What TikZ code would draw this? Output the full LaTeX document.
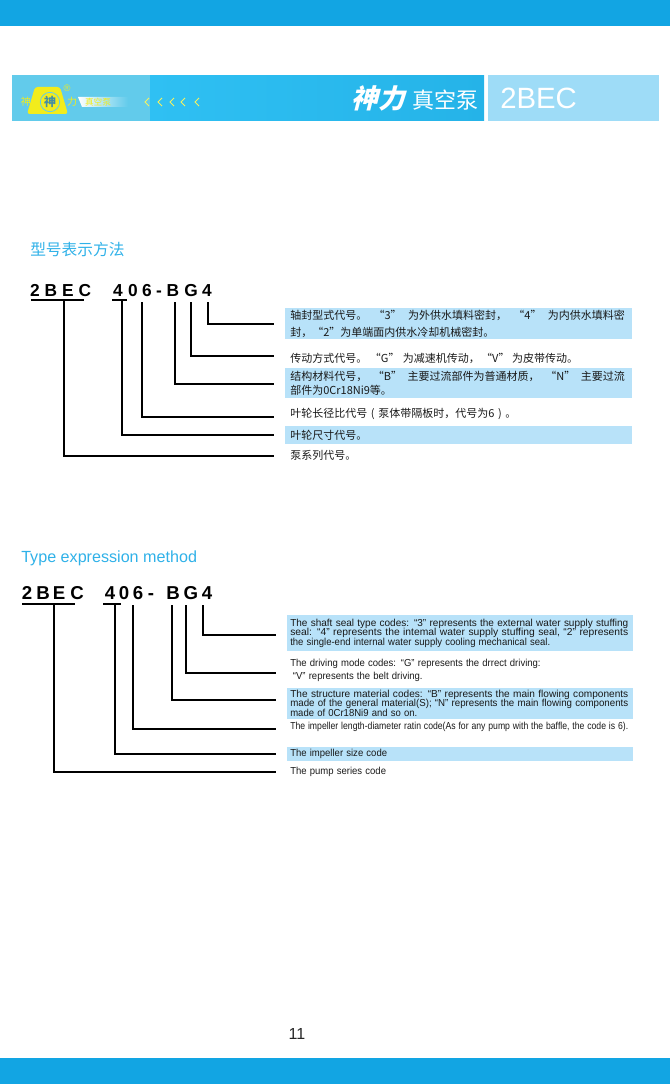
\documentclass[tikz,border=0pt]{standalone}
\usepackage{fontspec}
\setmainfont{Liberation Sans}
\newfontfamily\cjk{Noto Sans CJK SC}
\newfontfamily\cjkslant[FakeSlant=0.25]{Noto Sans CJK SC}
\usetikzlibrary{math}
\definecolor{barblue}{HTML}{12A5E3}
\definecolor{headleft}{HTML}{62CBEB}
\definecolor{headmid}{HTML}{2FC0F3}
\definecolor{headright}{HTML}{25B3E8}
\definecolor{headbox}{HTML}{9EDCF7}
\definecolor{bandblue}{HTML}{B8E2F9}
\definecolor{titleblue}{HTML}{2FB1E8}
\definecolor{logoyellow}{HTML}{F2EC1C}
\newcommand{\zhline}[1]{\makebox[251pt][s]{#1}}
\newcommand{\enline}[1]{\resizebox{253.5pt}{\height}{#1}}
\newcommand{\ensq}[1]{\scalebox{0.94}[1]{#1}}
\tikzset{
	x=0.75pt, y=-0.75pt,
	codechar/.style={font=\bfseries, minimum width=9pt, minimum height=18pt, text height=9.5pt, text depth=0pt, inner sep=0pt},
	underbar/.style={fill=black, inner sep=0pt, minimum height=1.4pt},
	leader/.style={line width=1.5pt, black},
	title/.style={anchor=west, inner sep=0pt, color=titleblue},
	zhdesc/.style={anchor=west, inner xsep=3.75pt, inner ysep=0pt, text width=252.75pt, align=left, font=\cjk\fontsize{8.25}{12.75}\selectfont, text=black!90},
	endesc/.style={anchor=west, inner xsep=2.25pt, inner ysep=0pt, text width=255pt, align=left, font=\fontsize{7.6}{7.2}\selectfont, text=black!90},
	band/.style={fill=bandblue}
}

\begin{document}
\begin{tikzpicture}
	\useasboundingbox (0, 0) rectangle (670, 1084);
	\tikzmath{\zhend = 8.6; \enend = 8.25;}

	\fill[barblue] (0, 0)    rectangle (670, 26);
	\fill[barblue] (0, 1058) rectangle (670, 1084);
	\fill[headleft] (12, 75) rectangle (150, 121);
	\shade[left color=headmid, right color=headright] (150, 75.5) rectangle (484, 121);
	\fill[headbox] (488, 75) rectangle (659, 121);

	\fill[logoyellow, rounded corners=2pt] (27, 114) -- (35, 87) -- (60, 87) -- (68, 114) -- cycle;
	\node[circle, draw=headleft, fill=logoyellow, line width=0.6pt, minimum size=14.5pt, inner sep=0pt, font=\cjk\bfseries\fontsize{9}{9}\selectfont, text=headleft!70!black] (logo) at (50, 102) {神};
	\node[font=\cjk\fontsize{7.5}{7.5}\selectfont, text=logoyellow] (logoa) at (26, 102) {神};
	\node[font=\cjk\fontsize{7.5}{7.5}\selectfont, text=logoyellow] (logob) at (72, 102) {力};
	\node[font=\fontsize{7}{7}\selectfont, text=logoyellow] (logoc) at (67, 88) {®};
	\shade[left color=white, right color=headleft] (78, 97) -- (128, 97) -- (128, 107) -- (82, 107) -- cycle;
	\node[font=\cjk\fontsize{6.5}{6.5}\selectfont, text=logoyellow] (logod) at (98, 102) {真空泵};
	\foreach \x in {147, 160, 172, 183, 197}
		\draw[logoyellow!70!white, line width=0.7pt] (\x + 2, 98) -- (\x - 2, 102) -- (\x + 2, 106);

	\node[font=\cjkslant\bfseries\fontsize{20}{20}\selectfont, text=white] (brand) at (378, 98) {神力};
	\node[font=\cjk\fontsize{16.5}{16.5}\selectfont, text=white] (pumpzh) at (445, 100) {真空泵};
	\node[anchor=west, inner sep=0pt, font=\fontsize{22}{22}\selectfont, text=white] (model) at (500, 98) {2BEC};

	\node[title, font=\cjk\fontsize{11.8}{11.8}\selectfont] (zhtitle) at (30, 249)  {型号表示方法};

	\node[codechar] (a2)  at (35, 290)  {\fontsize{13}{13}\selectfont 2};
	\node[codechar] (aB)  at (51, 290)  {\fontsize{13}{13}\selectfont B};
	\node[codechar] (aE)  at (68, 290)  {\fontsize{13}{13}\selectfont E};
	\node[codechar] (aC)  at (85, 290)  {\fontsize{13}{13}\selectfont C};
	\node[codechar] (a4)  at (118, 290) {\fontsize{13}{13}\selectfont 4};
	\node[codechar] (a0)  at (133, 290) {\fontsize{13}{13}\selectfont 0};
	\node[codechar] (a6)  at (147, 290) {\fontsize{13}{13}\selectfont 6};
	\node[codechar] (ad)  at (159, 290) {\fontsize{13}{13}\selectfont -};
	\node[codechar] (ab)  at (173, 290) {\fontsize{13}{13}\selectfont B};
	\node[codechar] (ag)  at (191, 290) {\fontsize{13}{13}\selectfont G};
	\node[codechar] (af)  at (207, 290) {\fontsize{13}{13}\selectfont 4};
	\node[underbar, minimum width=39.75pt] (au) at (57.5, 300)  {};
	\node[underbar, minimum width=11.25pt] (av) at (119.5, 300) {};

	\node[zhdesc, band, minimum height=23.25pt] (za) at (285, 323.5) {\zhline{轴封型式代号。\hfill“3”\hfill 为外供水填料密封，\hfill“4”\hfill 为内供水填料密}\\封，“2”为单端面内供水冷却机械密封。};
	\node[zhdesc]                               (zb) at (285, 358)   {传动方式代号。\hspace{2pt}“G”\hspace{2.5pt}为减速机传动，\hspace{1pt}“V”\hspace{2pt}为皮带传动。};
	\node[zhdesc, band, minimum height=22.5pt]  (zc) at (285, 383)   {\zhline{结构材料代号，\hfill“B”\hfill 主要过流部件为普通材质，\hfill“N”\hfill 主要过流}\\[-2.25pt]部件为0Cr18Ni9等。};
	\node[zhdesc]                               (zd) at (285, 414)   {叶轮长径比代号 ( 泵体带隔板时，代号为6 ) 。};
	\node[zhdesc, band, minimum height=13.5pt]  (ze) at (285, 435)   {叶轮尺寸代号。};
	\node[zhdesc]                               (zf) at (285, 455)   {泵系列代号。};

	\draw[leader, shorten >=\zhend pt] ([xshift=0.75pt]af.south)   |- ([yshift=-0.4pt]za.west);
	\draw[leader, shorten >=\zhend pt] (ag.south)                  |- ([yshift=1.5pt]zb.west);
	\draw[leader, shorten >=\zhend pt] ([xshift=1.5pt]ab.south)    |- ([yshift=-0.75pt]zc.west);
	\draw[leader, shorten >=\zhend pt] ([xshift=-3.75pt]a6.south)  |- ([yshift=-2.6pt]zd.west);
	\draw[leader, shorten >=\zhend pt] ([xshift=1.9pt]av.south)    |- (ze.west);
	\draw[leader, shorten >=\zhend pt] ([xshift=4.5pt]au.south)    |- ([yshift=-0.75pt]zf.west);

	\node[title, font=\fontsize{12.1}{12.1}\selectfont] (entitle) at (21, 558.5) {Type expression method};

	\node[codechar] (b2)  at (27, 593)  {\fontsize{14}{14}\selectfont 2};
	\node[codechar] (bB)  at (43, 593)  {\fontsize{14}{14}\selectfont B};
	\node[codechar] (bE)  at (59, 593)  {\fontsize{14}{14}\selectfont E};
	\node[codechar] (bC)  at (77, 593)  {\fontsize{14}{14}\selectfont C};
	\node[codechar] (b4)  at (110, 593) {\fontsize{14}{14}\selectfont 4};
	\node[codechar] (b0)  at (124, 593) {\fontsize{14}{14}\selectfont 0};
	\node[codechar] (b6)  at (138, 593) {\fontsize{14}{14}\selectfont 6};
	\node[codechar] (bd)  at (151, 593) {\fontsize{14}{14}\selectfont -};
	\node[codechar] (bb)  at (173, 593) {\fontsize{14}{14}\selectfont B};
	\node[codechar] (bg)  at (191, 593) {\fontsize{14}{14}\selectfont G};
	\node[codechar] (bf)  at (207, 593) {\fontsize{14}{14}\selectfont 4};
	\node[underbar, minimum width=39.75pt] (bu) at (48.5, 604) {};
	\node[underbar, minimum width=13.5pt]  (bv) at (112, 604)  {};

	\node[endesc, band, minimum height=27pt]    (ea) at (287, 633)   {\enline{The shaft seal type codes: “3” represents the external water supply stuffing}\\\enline{seal: “4”  represents the intemal water supply stuffing seal, “2” represents}\\\ensq{the single-end internal water supply cooling mechanical seal.}};
	\node[endesc]                               (eb) at (287, 670)   {\baselineskip=9.75pt\ensq{The driving mode codes: “G” represents the drrect driving:}\\[2.5pt]\hspace{2pt}\ensq{“V” represents the belt driving.}};
	\node[endesc, band, minimum height=23.25pt] (ec) at (287, 703.5) {\lineskiplimit=-5pt\baselineskip=6.8pt\enline{The structure material codes: “B” represents the main flowing components}\\\enline{made of the general material(S); “N” represents the main flowing components}\\\ensq{made of 0Cr18Ni9 and so on.}};
	\node[endesc]                               (ed) at (287, 727)   {\enline{The impeller length-diameter ratin code(As for any pump with the baffle, the code is 6).}};
	\node[endesc, band, minimum height=10.5pt]  (ee) at (287, 754)   {\raisebox{-1pt}{\ensq{The impeller size code}}};
	\node[endesc]                               (ef) at (287, 772)   {\ensq{The pump series code}};

	\draw[leader, shorten >=\enend pt] ([xshift=-3pt]bf.south)     |- ([yshift=-1.5pt]ea.west);
	\draw[leader, shorten >=\enend pt] ([xshift=-3.75pt]bg.south)  |- ([yshift=-2pt]eb.west);
	\draw[leader, shorten >=\enend pt] ([xshift=-0.75pt]bb.south)  |- ([yshift=2.6pt]ec.west);
	\draw[leader, shorten >=\enend pt] ([xshift=-3.75pt]b6.south)  |- ([yshift=-1.5pt]ed.west);
	\draw[leader, shorten >=\enend pt] ([xshift=2.25pt]bv.south)   |- (ee.west);
	\draw[leader, shorten >=\enend pt] ([xshift=4.1pt]bu.south)    |- (ef.west);

	\node[font=\fontsize{12}{12}\selectfont, text=black!85] (page) at (297, 1034) {11};
\end{tikzpicture}
\end{document}
